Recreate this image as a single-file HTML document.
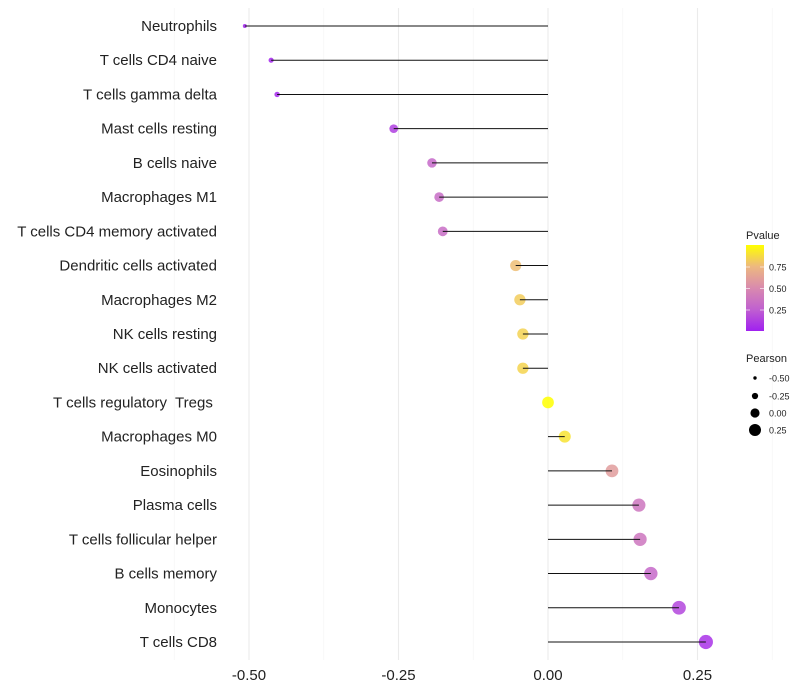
<!DOCTYPE html>
<html><head><meta charset="utf-8"><style>
body{margin:0;background:#fff;font-family:"Liberation Sans",sans-serif;}
svg{display:block}
text{white-space:pre}
</style></head><body>
<svg id="c" width="800" height="700">
<defs><linearGradient id="pg" x1="0" y1="1" x2="0" y2="0">
<stop offset="0" stop-color="#A020F0"/><stop offset="0.25" stop-color="#C060D0"/><stop offset="0.5" stop-color="#D98AAE"/><stop offset="0.75" stop-color="#EDB880"/><stop offset="1" stop-color="#FFFF00"/>
</linearGradient></defs>
</svg>
<script>
const categories=["Neutrophils","T cells CD4 naive","T cells gamma delta","Mast cells resting","B cells naive","Macrophages M1","T cells CD4 memory activated","Dendritic cells activated","Macrophages M2","NK cells resting","NK cells activated","T cells regulatory  Tregs ","Macrophages M0","Eosinophils","Plasma cells","T cells follicular helper","B cells memory","Monocytes","T cells CD8"];
const pearson=[-0.507,-0.463,-0.453,-0.258,-0.194,-0.182,-0.176,-0.054,-0.047,-0.042,-0.042,0.0,0.028,0.107,0.152,0.154,0.172,0.219,0.264];
const pvalue=[0.01,0.02,0.03,0.12,0.3,0.32,0.33,0.77,0.82,0.84,0.85,1.0,0.9,0.6,0.38,0.38,0.3,0.15,0.07];
const xTicks=[-0.5,-0.25,0,0.25];
const xTickLabels=["-0.50","-0.25","0.00","0.25"];
const legendP=[0.75,0.5,0.25];
const legendPLabels=["0.75","0.50","0.25"];
const legendR=[-0.5,-0.25,0,0.25];
const legendRLabels=["-0.50","-0.25","0.00","0.25"];

const svg=document.getElementById('c');const NS="http://www.w3.org/2000/svg";
function mk(t,a,p){const e=document.createElementNS(NS,t);for(const k in a)e.setAttribute(k,a[k]);(p||svg).appendChild(e);return e;}
const x=v=>548+v*598;
const y=i=>26+i*(616/18);
const rad=v=>Math.sqrt(Math.max(1,4+(v+0.507)*60));
const lrad=v=>1.7+(v+0.5)*(6-1.7)/0.75;
const stops=[[0,[160,32,240]],[0.25,[192,96,208]],[0.5,[217,138,174]],[0.75,[237,184,128]],[1,[255,255,0]]];
function col(p){for(let k=0;k<stops.length-1;k++){const [a,A]=stops[k],[b,B]=stops[k+1];if(p<=b){const t=(p-a)/(b-a);return `rgb(${A.map((v,i)=>Math.round(v+(B[i]-v)*t))})`;}}return 'rgb(255,255,0)';}

for(let v=-0.625;v<=0.375;v+=0.125){const minor=Math.abs(v*8)%2;const g=mk('line',{x1:x(v),x2:x(v),y1:8,y2:660,stroke:minor?'#f4f4f4':'#ebebeb','stroke-width':minor?0.6:1.1});
}
xTicks.forEach((v,i)=>{const t=mk('text',{x:x(v),y:680,'text-anchor':'middle','font-size':15,fill:'#222'});t.textContent=xTickLabels[i];
});
categories.forEach((c,i)=>{
 const t=mk('text',{x:217,y:y(i)+5,'text-anchor':'end','font-size':15,fill:'#222'});t.textContent=c;
 
 const d=mk('circle',{cx:x(pearson[i]),cy:y(i),r:rad(pearson[i]),fill:col(pvalue[i]),'fill-opacity':0.85});
 
 const l=mk('line',{x1:x(0),x2:x(pearson[i]),y1:y(i),y2:y(i),stroke:'#111','stroke-width':1});
 
});
let t=mk('text',{x:746,y:239,'font-size':11,fill:'#222'});t.textContent="Pvalue";

const bar=mk('rect',{x:746,y:245,width:18,height:86,fill:'url(#pg)'});

legendP.forEach((p,i)=>{const yy=331.5-p*86;
 mk('line',{x1:746,x2:750,y1:yy,y2:yy,stroke:'#fff','stroke-width':0.6});mk('line',{x1:760,x2:764,y1:yy,y2:yy,stroke:'#fff','stroke-width':0.6});
 const e=mk('text',{x:769,y:yy+3.5,'font-size':9,fill:'#222'});e.textContent=legendPLabels[i];
 });
t=mk('text',{x:746,y:362,'font-size':11,fill:'#222'});t.textContent="Pearson";

const ly=[378,396,413,430];
legendR.forEach((v,i)=>{const c=mk('circle',{cx:755,cy:ly[i],r:lrad(v),fill:'#000'});
 
 const e=mk('text',{x:769,y:ly[i]+3.5,'font-size':9,fill:'#222'});e.textContent=legendRLabels[i];
 });
</script>
</body></html>
